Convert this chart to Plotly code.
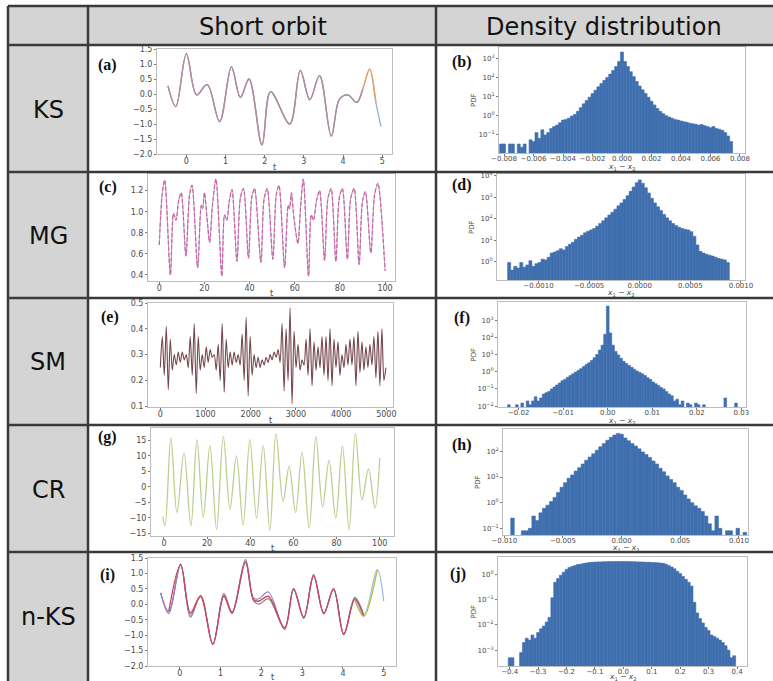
import numpy as np
import plotly.graph_objects as go

W, H = 773, 681

# ---------------- data ----------------
col_titles = ["Short orbit", "Density distribution"]
row_labels = ["KS", "MG", "SM", "CR", "n-KS"]
panel_tags = ["(a)", "(b)", "(c)", "(d)", "(e)", "(f)", "(g)", "(h)", "(i)", "(j)"]

# (a) KS short orbit
ks_t = [-0.47, -0.27, 0.0, 0.26, 0.53, 0.85, 1.15, 1.38, 1.60, 1.93, 2.15, 2.64, 2.91,
        3.15, 3.40, 3.70, 3.91, 4.12, 4.35, 4.50, 4.68, 4.84, 4.97]
ks_y = [0.27, -0.42, 1.34, -0.03, 0.31, -0.92, 0.90, -0.11, 0.50, -1.70, 0.08, -1.00, 0.79,
        -0.19, 0.61, -1.40, -0.17, -0.03, -0.28, 0.15, 0.83, -0.30, -1.09]

# (b) KS density (bin start, width, PDF values)
ks_bin_start, ks_bin_w = -0.0082, 0.0002
ks_pdf = [0.03, 0.03, None, 0.03, 0.03, None, 0.03, 0.02, 0.03, None,
          0.05, 0.04, 0.12, 0.06, 0.17, 0.09, 0.12, 0.2, 0.25, 0.3,
          0.4, 0.55, 0.6, 0.7, 0.9, 1.1, 1.6, 2.5, 4, 6,
          9, 14, 21, 32, 48, 70, 100, 150, 230, 380,
          700, 2200,
          700, 380, 200, 110, 60, 35, 22, 14, 9, 5.5,
          3.5, 2.3, 1.6, 1.2, 0.95, 0.8, 0.7, 0.6, 0.55, 0.5,
          0.45, 0.42, 0.38, 0.35, 0.33, 0.3, 0.32, 0.28, 0.25, 0.22,
          0.25, 0.2, 0.18, 0.16, 0.12, 0.08, 0.04]

# (c) MG short orbit
mg_t = [0, 1.2, 2.4, 4.9, 6.3, 7.4, 8.6, 9.7, 11.8, 13.4,
        14.5, 17.0, 18.6, 19.2, 20.0, 21.1, 22.3, 23.5, 25.1, 27.7,
        28.9, 29.9, 31.0, 32.2, 34.4, 35.9, 37.3, 39.5, 41.0, 42.2,
        45.0, 46.4, 47.8, 50.3, 51.8, 53.0, 55.5, 57.1, 57.7, 58.5,
        59.6, 61.4, 62.6, 63.8, 66.1, 67.3, 68.3, 69.6, 71.0, 73.2,
        74.7, 76.1, 78.2, 79.7, 81.1, 83.3, 84.8, 86.3, 88.5, 90.0,
        91.3, 93.7, 95.3, 96.8, 100.0]
mg_y = [0.685, 1.15, 1.30, 0.40, 0.985, 0.92, 1.11, 1.18, 0.58, 1.16,
        1.25, 0.47, 1.06, 1.03, 1.18, 0.95, 0.71, 1.05, 1.31, 0.39,
        0.97, 0.92, 1.10, 1.21, 0.53, 1.13, 1.22, 0.56, 1.14, 1.22,
        0.52, 1.12, 1.22, 0.55, 1.16, 1.25, 0.47, 1.06, 1.03, 1.18,
        0.95, 0.70, 1.05, 1.31, 0.39, 0.97, 0.92, 1.10, 1.20, 0.54,
        1.13, 1.22, 0.53, 1.13, 1.22, 0.55, 1.13, 1.22, 0.50, 1.10,
        1.19, 0.61, 1.15, 1.27, 0.44]

# (d) MG density
mg_bin_start, mg_bin_w = -0.00129, 0.00003
mg_pdf = [0.9, 0.4, 0.6, 0.5, 0.9, 0.55, 0.7, 1.1, 0.6, 0.8,
          0.9, 1.3, 1.2, 1.6, 2.5, 2.8, 3.2, 4, 3.5, 5,
          6.5, 8, 11, 14, 17, 22, 26, 30, 35, 45,
          60, 80, 110, 150, 200, 280, 400, 550, 800, 1200,
          1900, 3000, 4800, 6500,
          4500, 2800, 1600, 900, 550, 360, 240, 160, 110, 80,
          60, 48, 40, 35, 32, 30, 25, 15, 6, 3,
          2.5, 2.2, 2, 1.8, 1.6, 1.4, 1.3, 1.2, 0.9]

# (e) SM short orbit (uniformly sampled over t = 0 .. 4990)
sm_t_end = 4990
sm_y = [0.25, 0.37, 0.22, 0.41, 0.165, 0.36, 0.24, 0.30,
        0.26, 0.31, 0.27, 0.31, 0.28, 0.30, 0.25,
        0.37, 0.22, 0.42, 0.15, 0.37, 0.24, 0.30, 0.25,
        0.33, 0.27, 0.32, 0.29, 0.30, 0.24, 0.34,
        0.20, 0.42, 0.155, 0.36, 0.25,
        0.31, 0.26, 0.31, 0.27, 0.30, 0.26,
        0.38, 0.20, 0.445, 0.14, 0.37, 0.22,
        0.30, 0.25, 0.29, 0.25, 0.28, 0.26, 0.29, 0.27, 0.30, 0.28, 0.31, 0.29, 0.32,
        0.27, 0.42, 0.16, 0.40, 0.20, 0.48, 0.11, 0.39,
        0.25, 0.34, 0.24, 0.28, 0.26, 0.36, 0.22,
        0.40, 0.18, 0.35, 0.24, 0.33, 0.25, 0.37, 0.22,
        0.37, 0.20, 0.40, 0.18, 0.36, 0.25,
        0.35, 0.22, 0.30, 0.25, 0.34, 0.26, 0.36,
        0.26, 0.37, 0.18, 0.39, 0.23, 0.35, 0.24,
        0.33, 0.25, 0.34, 0.26, 0.37, 0.21,
        0.39, 0.18, 0.40, 0.20, 0.25]

# (f) SM density
sm_bin_start, sm_bin_w = -0.0222, 0.0006
sm_pdf = [0.012, None, None, 0.012, None, 0.015, None, 0.02, 0.012, 0.02,
          0.035, 0.02, 0.03, 0.05, 0.06, 0.07, 0.1, 0.13, 0.17, 0.22,
          0.3, 0.36, 0.48, 0.6, 0.75, 0.95, 1.2, 1.5, 2, 2.6,
          3.3, 4.5, 6.5, 10, 18, 35, 150,
          6500,
          180, 35, 15, 9.5, 6, 4, 3, 2.3, 1.8, 1.4,
          1.1, 0.9, 0.75, 0.6, 0.45, 0.35, 0.25, 0.2, 0.16, 0.12,
          0.1, 0.07, 0.05, 0.04, 0.02, 0.025, 0.012, 0.02, None, 0.015,
          0.012, None, 0.015, 0.012, None, 0.012, None, None, None, None,
          None, None, None, 0.03, None, None, None, 0.015, None]

# (g) CR short orbit
cr_t = [-0.6, 0.5, 3.2, 6.0, 9.3, 12.5, 15.3, 18.2, 21.3, 24.4,
        27.5, 30.6, 33.6, 36.7, 39.8, 42.9, 46.0, 49.1, 51.9, 55.2,
        58.0, 61.0, 64.0, 67.3, 70.4, 73.5, 76.5, 79.6, 82.7, 85.8,
        88.7, 91.8, 94.8, 97.8, 100.0]
cr_y = [-9.6, -12.6, 15.8, -8.3, 10.9, -12.6, 15.2, -9.8, 13.3, -13.7,
        16.3, -7.2, 10.0, -12.3, 15.2, -10.1, 13.3, -14.1, 17.2, -4.7,
        6.6, -8.3, 11.1, -13.4, 16.3, -6.6, 8.5, -10.1, 13.1, -13.9,
        17.2, -4.2, 5.7, -6.9, 9.3]

# (h) CR density
cr_bin_start, cr_bin_w = -0.0093, 0.0003
cr_pdf = [0.25, None, None, 0.08, 0.08, 0.1, 0.3, 0.2, 0.4, 0.6,
          0.8, 1.1, 1.6, 2.5, 4, 6, 9, 12, 17, 23,
          32, 45, 60, 80, 110, 150, 200, 270, 350, 430, 500,
          460,
          330, 260, 200, 160, 125, 95, 75, 58, 42, 32,
          22, 16, 11, 8, 6, 4, 3, 2, 1.4, 1,
          0.75, 0.6, 0.45, 0.3, 0.15, 0.08, 0.3, 0.1, None, 0.08,
          0.08, None, 0.1, None, 0.07]

# (i) n-KS short orbit (ensemble members)
nks_t = [-0.47, -0.27, 0.02, 0.26, 0.51, 0.81, 1.08, 1.28, 1.61, 1.81, 1.94, 2.17,
         2.57, 2.79, 3.04, 3.28, 3.53, 3.77, 4.02, 4.29, 4.51, 4.84, 5.0]
nks_truth = [0.37, -0.22, 1.28, -0.28, 0.26, -1.30, 0.26, -0.28, 1.36, 0.15, 0.10, 0.26,
             -0.76, 0.48, -0.44, 0.91, -0.28, 0.48, -0.98, 0.15, -0.38, 1.12, 0.10]
nks_gray = [0.37, -0.30, 1.30, -0.42, 0.28, -1.28, 0.35, -0.25, 1.45, 0.12, 0.0, 0.18,
            -0.80, 0.52, -0.42, 0.95, -0.30, 0.50, -0.95, 0.22, -0.35]
nks_purple = [0.37, -0.25, 1.27, -0.35, 0.27, -1.30, 0.30, -0.30, 1.40, 0.20, 0.18, 0.40,
              -0.82, 0.50, -0.45, 0.96, -0.32, 0.52, -0.97, 0.20, -0.36]

# (j) n-KS density
nks_bin_start, nks_bin_w = -0.40, 0.01
nks_pdf = [0.0005, 0.0005, None, None, 0.0008, 0.002, 0.003, 0.0025, 0.004, 0.003,
           0.005, 0.007, 0.009, 0.013, 0.02, 0.12, 0.5, 0.7, 0.95, 1.25,
           1.6, 1.9, 2.1, 2.3, 2.5, 2.6, 2.75, 2.9, 3.0, 3.1,
           3.15, 3.2, 3.2, 3.25, 3.25, 3.3, 3.3, 3.3, 3.3, 3.3,
           3.3, 3.3, 3.3, 3.25, 3.25, 3.2, 3.2, 3.15, 3.1, 3.1,
           3.05, 3.0, 2.95, 2.9, 2.8, 2.6, 2.3, 2.0, 1.7, 1.35,
           1.1, 0.85, 0.65, 0.5, 0.35, 0.08, 0.03, 0.018, 0.012, 0.008,
           0.006, 0.004, 0.0035, 0.003, 0.0025, 0.002, 0.0015, 0.001, 0.0005, 0.0006]

# tick labels
ks_xticks = [0, 1, 2, 3, 4, 5]
ks_yticks = [-2.0, -1.5, -1.0, -0.5, 0.0, 0.5, 1.0, 1.5]
mg_xticks = [0, 20, 40, 60, 80, 100]
mg_yticks = [0.4, 0.6, 0.8, 1.0, 1.2]
sm_xticks = [0, 1000, 2000, 3000, 4000, 5000]
sm_yticks = [0.1, 0.2, 0.3, 0.4, 0.5]
cr_xticks = [0, 20, 40, 60, 80, 100]
cr_yticks = [-15, -10, -5, 0, 5, 10, 15]
b_xticks = [-0.008, -0.006, -0.004, -0.002, 0.0, 0.002, 0.004, 0.006, 0.008]
d_xticks = [-0.0010, -0.0005, 0.0, 0.0005, 0.0010]
f_xticks = [-0.02, -0.01, 0.0, 0.01, 0.02, 0.03]
h_xticks = [-0.010, -0.005, 0.0, 0.005, 0.010]
j_xticks = [-0.4, -0.3, -0.2, -0.1, 0.0, 0.1, 0.2, 0.3, 0.4]
b_yexp = [-1, 0, 1, 2, 3]
d_yexp = [0, 1, 2, 3, 4]
f_yexp = [-2, -1, 0, 1, 2, 3]
h_yexp = [-1, 0, 1, 2]
j_yexp = [-3, -2, -1, 0]

# ---------------- styling / layout ----------------
BAR = "#3f6fae"
LINE_C = "#3a3a3a"
GRAY_FILL = "#d4d4d4"


def fmt(v, dec):
    s = f"{abs(v):.{dec}f}"
    return ("\u2212" + s) if v < 0 else s


def lin_ticks(vals, dec):
    return dict(tickvals=vals, ticktext=[fmt(v, dec) for v in vals])


def log_ticks(exps):
    return dict(tickvals=[10.0 ** e for e in exps],
                ticktext=[f"10<sup>{fmt(e, 0)}</sup>" for e in exps])


def centers(start, w, vals):
    return [round(start + w * i, 7) for i in range(len(vals))]


# pixel boxes: (left, right, top, bottom)
panels = {
    1: dict(box=(157, 392, 49, 154), xr=[-0.75, 5.25], yr=[-2.0, 1.5], log=False,
            xt=lin_ticks(ks_xticks, 0), yt=lin_ticks(ks_yticks, 1)),
    2: dict(box=(499, 745, 47, 153), xr=[-0.00834, 0.00834], yr=[-2.0, 3.61], log=True,
            xt=lin_ticks(b_xticks, 3), yt=log_ticks(b_yexp)),
    3: dict(box=(148, 395, 174, 281), xr=[-5.0, 104.4], yr=[0.343, 1.358], log=False,
            xt=lin_ticks(mg_xticks, 0), yt=lin_ticks(mg_yticks, 1)),
    4: dict(box=(497, 745, 174, 280), xr=[-0.00141, 0.00104], yr=[-0.86, 4.09], log=True,
            xt=lin_ticks(d_xticks, 4), yt=log_ticks(d_yexp)),
    5: dict(box=(148, 393, 303, 407), xr=[-272, 5147], yr=[0.0974, 0.5], log=False,
            xt=lin_ticks(sm_xticks, 0), yt=lin_ticks(sm_yticks, 1)),
    6: dict(box=(498, 746, 302, 407), xr=[-0.02464, 0.03105], yr=[-2.05, 4.05], log=True,
            xt=lin_ticks(f_xticks, 2), yt=log_ticks(f_yexp)),
    7: dict(box=(151, 394, 428, 536), xr=[-6.0, 106.6], yr=[-15.9, 19.0], log=False,
            xt=lin_ticks(cr_xticks, 0), yt=lin_ticks(cr_yticks, 0)),
    8: dict(box=(503, 748, 429, 535), xr=[-0.01011, 0.01077], yr=[-1.26, 2.87], log=True,
            xt=lin_ticks(h_xticks, 3), yt=log_ticks(h_yexp)),
    9: dict(box=(148, 396, 558, 666), xr=[-0.78, 5.30], yr=[-2.0, 1.5], log=False,
            xt=lin_ticks(ks_xticks, 0), yt=lin_ticks(ks_yticks, 1)),
    10: dict(box=(498, 747, 557, 666), xr=[-0.441, 0.435], yr=[-3.63, 0.70], log=True,
             xt=lin_ticks(j_xticks, 1), yt=log_ticks(j_yexp)),
}


def axstyle(size, standoff):
    return dict(showline=True, mirror=True, linecolor="#bdbdbd", linewidth=1,
                ticks="outside", ticklen=2, tickwidth=0.8, tickcolor="#777",
                tickfont=dict(family="DejaVu Sans", size=size, color="#4a4a4a"),
                tickangle=0, showgrid=False, zeroline=False, fixedrange=True,
                automargin=False, ticklabelstandoff=standoff)


fig = go.Figure()
layout = dict(width=W, height=H, margin=dict(l=0, r=0, t=0, b=0, pad=0, autoexpand=False),
              paper_bgcolor="white", plot_bgcolor="white", showlegend=False,
              barmode="overlay")


def axn(n):
    return ("x", "y") if n == 1 else (f"x{n}", f"y{n}")


for n, p in panels.items():
    l, r, t, b = p["box"]
    xa, ya = axn(n)
    fs = 8 if n % 2 == 1 else 7
    layout["xaxis" if n == 1 else f"xaxis{n}"] = dict(
        domain=[l / W, r / W], range=p["xr"], anchor=ya, **p["xt"], **axstyle(fs, -3))
    layout["yaxis" if n == 1 else f"yaxis{n}"] = dict(
        domain=[1 - b / H, 1 - t / H], range=p["yr"], anchor=xa,
        type="log" if p["log"] else "linear", **p["yt"], **axstyle(fs, 0))


def line(n, x, y, color, width=1.3, dash=None, smooth=1.0):
    xa, ya = axn(n)
    fig.add_trace(go.Scatter(x=x, y=y, mode="lines", xaxis=xa, yaxis=ya,
                             line=dict(color=color, width=width, dash=dash,
                                       shape="spline", smoothing=smooth),
                             hoverinfo="skip"))


def hist(n, start, w, vals):
    xa, ya = axn(n)
    fig.add_trace(go.Bar(x=centers(start, w, vals), y=vals, width=w, xaxis=xa, yaxis=ya,
                         marker=dict(color=BAR, line=dict(width=0.6, color=BAR)),
                         hoverinfo="skip"))


# (a)
line(1, ks_t, ks_y, "#8fb4da")
line(1, ks_t[:22], ks_y[:22], "#f0a050")
line(1, ks_t[:20], ks_y[:20], "#a38cb6")
# (b)
hist(2, ks_bin_start, ks_bin_w, ks_pdf)
# (c)
line(3, mg_t, mg_y, "#b5a6cc", width=1.0, smooth=0.8)
line(3, mg_t, mg_y, "#d35f9f", width=1.2, dash="4px,2px", smooth=0.8)
# (d)
hist(4, mg_bin_start, mg_bin_w, mg_pdf)
# (e)
sm_t = np.linspace(0, sm_t_end, len(sm_y))
line(5, sm_t, sm_y, "#74474f", width=1.1, smooth=0.8)
# (f)
hist(6, sm_bin_start, sm_bin_w, sm_pdf)
# (g)
line(7, cr_t, cr_y, "#bccf90", width=1.3)
# (h)
hist(8, cr_bin_start, cr_bin_w, cr_pdf)
# (i)
line(9, nks_t, nks_truth, "#9dbfe0", width=1.3)
line(9, nks_t[:21], nks_gray, "#7a7a7a", width=1.1)
line(9, nks_t[:21], nks_purple, "#9a7fc0", width=1.1)
line(9, nks_t[1:21], nks_truth[1:21], "#d2405c", width=1.3)
line(9, nks_t[19:22], nks_truth[19:22], "#b8c030", width=1.3)
# (j)
hist(10, nks_bin_start, nks_bin_w, nks_pdf)

# ---------------- table frame ----------------
shapes = []


def rect(x0, y0, x1, y1, fill):
    shapes.append(dict(type="rect", xref="paper", yref="paper", layer="below",
                       x0=x0 / W, x1=x1 / W, y0=1 - y1 / H, y1=1 - y0 / H,
                       fillcolor=fill, line=dict(width=0)))


def seg(x0, y0, x1, y1, w=2.5):
    shapes.append(dict(type="line", xref="paper", yref="paper", layer="above",
                       x0=x0 / W, x1=x1 / W, y0=1 - y0 / H, y1=1 - y1 / H,
                       line=dict(color=LINE_C, width=w)))


rect(8, 6, 773, 45, GRAY_FILL)
rect(8, 45, 88, 681, GRAY_FILL)
row_lines = [6, 45, 172, 298, 425, 552]
for yy in row_lines:
    seg(8, yy, 773, yy)
for xx in [8, 88, 436]:
    seg(xx, 6, xx, 681)
layout["shapes"] = shapes

ann = []


def text(x, y, s, size, family="DejaVu Sans", color="#111", angle=0, **kw):
    ann.append(dict(x=x / W, y=1 - y / H, xref="paper", yref="paper", text=s,
                    showarrow=False, xanchor="center", yanchor="middle", textangle=angle,
                    font=dict(family=family, size=size, color=color), **kw))


text(263, 27, col_titles[0], 24)
text(604, 27, col_titles[1], 24)
row_y = [110, 236, 362, 490, 617]
for lab, yy in zip(row_labels, row_y):
    text(48, yy, lab, 24)

tag_pos = [(107, 65), (462, 62), (108, 187), (462, 185), (110, 317),
           (462, 318), (107, 437), (462, 445), (107, 575), (458, 574)]
for tg, (xx, yy) in zip(panel_tags, tag_pos):
    text(xx, yy, f"<b>{tg}</b>", 16, family="Liberation Serif")

xlab_y = {1: 167, 2: 167, 3: 293, 4: 293, 5: 420, 6: 421, 7: 548, 8: 548, 9: 677, 10: 677}
for n, p in panels.items():
    l, r, t, b = p["box"]
    if n % 2 == 1:
        text((l + r) / 2, xlab_y[n], "t", 8, color="#444")
    else:
        text((l + r) / 2, xlab_y[n], "<i>x</i><sub>1</sub> \u2212 <i>x</i><sub>2</sub>", 7.5,
             color="#444")
        text(l - 25, (t + b) / 2, "PDF", 7, color="#444", angle=-90)

layout["annotations"] = ann
fig.update_layout(**layout)
fig.write_html("out.html", config={"displayModeBar": False},
               post_script="document.body.style.margin='0px';")
